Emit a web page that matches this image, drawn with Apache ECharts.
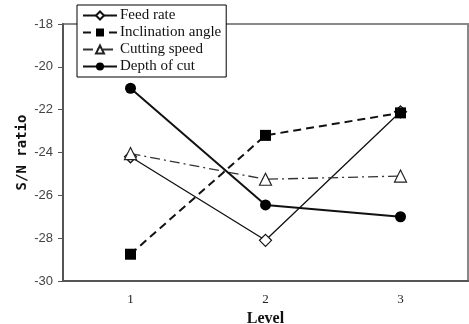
<!DOCTYPE html>
<html><head><meta charset="utf-8">
<script src="https://cdn.jsdelivr.net/npm/echarts@6/dist/echarts.min.js"></script>
<style>html,body{margin:0;padding:0;background:#fff}#c{width:469px;height:324px}</style>
</head><body><div id="c"></div>
<script>
const levels = ['1', '2', '3'];
const feedRate = [-24.2, -28.1, -22.1];
const inclinationAngle = [-28.75, -23.2, -22.15];
const cuttingSpeed = [-24.05, -25.25, -25.1];
const depthOfCut = [-21.0, -26.45, -27.0];
const yTicks = {min: -30, max: -18, interval: 2};

const chart = echarts.init(document.getElementById('c'));
const serif = '"Liberation Serif","DejaVu Serif",serif';
chart.setOption({
  animation: false,
  backgroundColor: '#fff',
  grid: {left: 63, right: 1, top: 24, bottom: 43, show: true, borderColor: '#888', borderWidth: 2,
         backgroundColor: 'transparent', containLabel: false, outerBoundsMode: 'none'},
  legend: {
    left: 77, top: 5, orient: 'vertical',
    backgroundColor: '#fff', borderColor: '#000', borderWidth: 1, borderRadius: 0,
    padding: [3, 5, 3, 5], itemWidth: 34, itemHeight: 10, itemGap: 2,
    textStyle: {fontFamily: serif, fontSize: 15, lineHeight: 14, color: '#111', padding: [0, 0, 0, -2]},
    data: ['Feed rate', 'Inclination angle', 'Cutting speed', 'Depth of cut']
  },
  xAxis: {
    type: 'category', data: levels, boundaryGap: true,
    name: 'Level', nameLocation: 'middle', nameGap: 26,
    nameTextStyle: {fontFamily: serif, fontWeight: 'bold', fontSize: 16, color: '#111'},
    axisLine: {lineStyle: {color: '#555', width: 2}},
    axisTick: {show: false},
    axisLabel: {fontFamily: serif, fontSize: 13, color: '#222', margin: 12}
  },
  yAxis: {
    type: 'value', min: yTicks.min, max: yTicks.max, interval: yTicks.interval,
    name: 'S/N ratio', nameLocation: 'middle', nameGap: 34, nameMoveOverlap: false,
    nameTextStyle: {fontFamily: '"DejaVu Sans Mono","Liberation Mono",monospace', fontWeight: 'bold', fontSize: 14, color: '#111'},
    axisLine: {show: true, lineStyle: {color: '#555', width: 2}},
    axisTick: {show: true, inside: false, length: 5, lineStyle: {color: '#555', width: 1}},
    splitLine: {show: false},
    axisLabel: {fontFamily: '"Liberation Sans",Arial,sans-serif', fontSize: 13, color: '#444', margin: 10}
  },
  series: [
    {name: 'Feed rate', type: 'line', data: feedRate, symbol: 'diamond', symbolSize: 12, z: 2,
     lineStyle: {color: '#111', width: 1.3, type: 'solid'},
     itemStyle: {color: '#fff', borderColor: '#111', borderWidth: 1.2}},
    {name: 'Inclination angle', type: 'line', data: inclinationAngle, symbol: 'rect', symbolSize: 11, z: 3,
     lineStyle: {color: '#111', width: 2, type: [8, 5]},
     itemStyle: {color: '#000', borderColor: '#000', borderWidth: 0}},
    {name: 'Cutting speed', type: 'line', data: cuttingSpeed, symbol: 'triangle', symbolSize: 12, z: 3,
     lineStyle: {color: '#333', width: 1.3, type: [10, 4, 2, 4]},
     itemStyle: {color: '#fff', borderColor: '#222', borderWidth: 1.2}},
    {name: 'Depth of cut', type: 'line', data: depthOfCut, symbol: 'circle', symbolSize: 11, z: 3,
     lineStyle: {color: '#111', width: 2, type: 'solid'},
     itemStyle: {color: '#000', borderColor: '#000', borderWidth: 0}}
  ]
});
</script></body></html>
